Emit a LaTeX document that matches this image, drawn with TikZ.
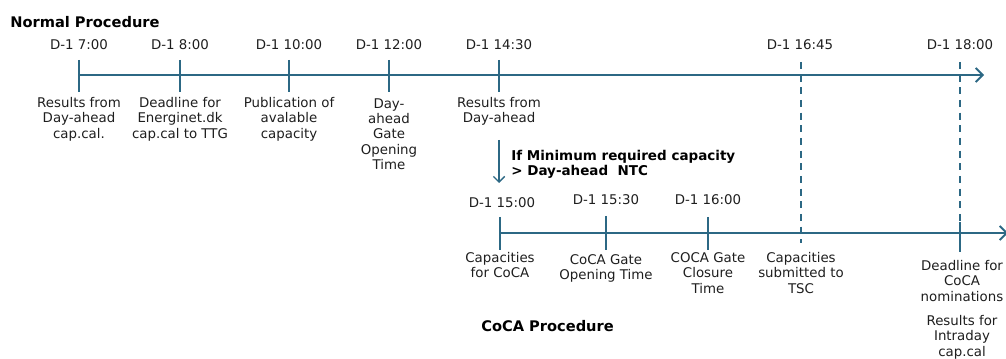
\documentclass[tikz,border=0pt]{standalone}
\usepackage{fontspec}
\setmainfont{DejaVu Sans}
\usetikzlibrary{arrows.meta}

\definecolor{lineblue}{RGB}{44,104,132}
\definecolor{txtgray}{RGB}{30,30,30}

\tikzset{
  axisline/.style={draw=lineblue, line width=1.5pt, -{Straight Barb[length=5pt,width=10pt,line width=1.3pt]}},
  tickline/.style={draw=lineblue, line width=1.3pt},
  dashline/.style={draw=lineblue, line width=1.3pt, dash pattern=on 5pt off 4pt},
  timelbl/.style={text=txtgray, font=\fontsize{9.5}{11}\selectfont, inner sep=0pt},
  evlbl/.style={text=txtgray, font=\fontsize{9.5}{11}\selectfont, align=center, anchor=north, inner sep=0pt},
  headlbl/.style={text=black, font=\fontsize{10.4}{11.5}\selectfont\bfseries, anchor=west, inner sep=0pt},
}

\begin{document}
\begin{tikzpicture}[x=0.025cm,y=-0.025cm]
  \useasboundingbox (0,0) rectangle (1006,359);

  % normal procedure
  \node[headlbl] at (10,22) (normal) {Normal Procedure};
  \coordinate (nstart) at (79,75);
  \coordinate (nend) at (984,75);
  \draw[axisline] (nstart)--(nend);

  \node[timelbl] at (79,45) (t700) {D-1 7:00};
  \node[timelbl] at (180,45) (t800) {D-1 8:00};
  \node[timelbl] at (289,45) (t1000) {D-1 10:00};
  \node[timelbl] at (389,45) (t1200) {D-1 12:00};
  \node[timelbl] at (499,45) (t1430) {D-1 14:30};
  \node[timelbl] at (800,45) (t1645) {D-1 16:45};
  \node[timelbl] at (960,45) (t1800) {D-1 18:00};

  \coordinate (a1) at (79,60);  \coordinate (b1) at (79,92);
  \coordinate (a2) at (180,60); \coordinate (b2) at (180,92);
  \coordinate (a3) at (289,60); \coordinate (b3) at (289,92);
  \coordinate (a4) at (389,60); \coordinate (b4) at (389,92);
  \coordinate (a5) at (499,60); \coordinate (b5) at (499,92);
  \draw[tickline] (a1)--(b1);
  \draw[tickline] (a2)--(b2);
  \draw[tickline] (a3)--(b3);
  \draw[tickline] (a4)--(b4);
  \draw[tickline] (a5)--(b5);

  \node[evlbl] at (79,97) (e700) {Results from\\Day-ahead\\cap.cal.};
  \node[evlbl] at (180,97) (e800) {Deadline for\\Energinet.dk\\cap.cal to TTG};
  \node[evlbl] at (289,97) (e1000) {Publication of\\avalable\\capacity};
  \node[evlbl] at (389,98) (e1200) {Day-\\ahead\\Gate\\Opening\\Time};
  \node[evlbl] at (499,97) (e1430) {Results from\\Day-ahead};

  % switch to CoCA
  \coordinate (sw1) at (499,140);
  \coordinate (sw2) at (499,183);
  \draw[tickline,-{Straight Barb[length=4pt,width=8pt,line width=1pt]}] (sw1)--(sw2);
  \node[headlbl,align=left,font=\fontsize{9.6}{10.7}\selectfont\bfseries] at (511,164.5) (cond) {If Minimum required capacity\\> Day-ahead\ \ NTC};

  % dashed links
  \coordinate (d1a) at (801,62);  \coordinate (d1b) at (801,243);
  \coordinate (d2a) at (960,62);  \coordinate (d2b) at (960,222);
  \draw[dashline] (d1a)--(d1b);
  \draw[dashline] (d2a)--(d2b);

  % coca procedure
  \coordinate (cstart) at (500,233);
  \coordinate (cend) at (1008,233);
  \draw[axisline] (cstart)--(cend);

  \node[timelbl] at (502,203) (t1500) {D-1 15:00};
  \node[timelbl] at (606,200) (t1530) {D-1 15:30};
  \node[timelbl] at (708,200) (t1600) {D-1 16:00};

  \coordinate (c1) at (500,217); \coordinate (f1) at (500,250);
  \coordinate (c2) at (606,216); \coordinate (f2) at (606,250);
  \coordinate (c3) at (708,217); \coordinate (f3) at (708,250);
  \coordinate (c4) at (960,222); \coordinate (f4) at (960,252);
  \draw[tickline] (c1)--(f1);
  \draw[tickline] (c2)--(f2);
  \draw[tickline] (c3)--(f3);
  \draw[tickline] (c4)--(f4);

  \node[evlbl] at (500,252) (e1500) {Capacities\\for CoCA};
  \node[evlbl] at (606,254) (e1530) {CoCA Gate\\Opening Time};
  \node[evlbl] at (708,252) (e1600) {COCA Gate\\Closure\\Time};
  \node[evlbl] at (801,252) (e1645) {Capacities\\submitted to\\TSC};
  \node[evlbl] at (962,260) (e1800) {Deadline for\\CoCA\\nominations};
  \node[evlbl] at (962,315) (e1800b) {Results for\\Intraday\\cap.cal};

  \node[headlbl] at (481,326) (coca) {CoCA Procedure};
\end{tikzpicture}
\end{document}
